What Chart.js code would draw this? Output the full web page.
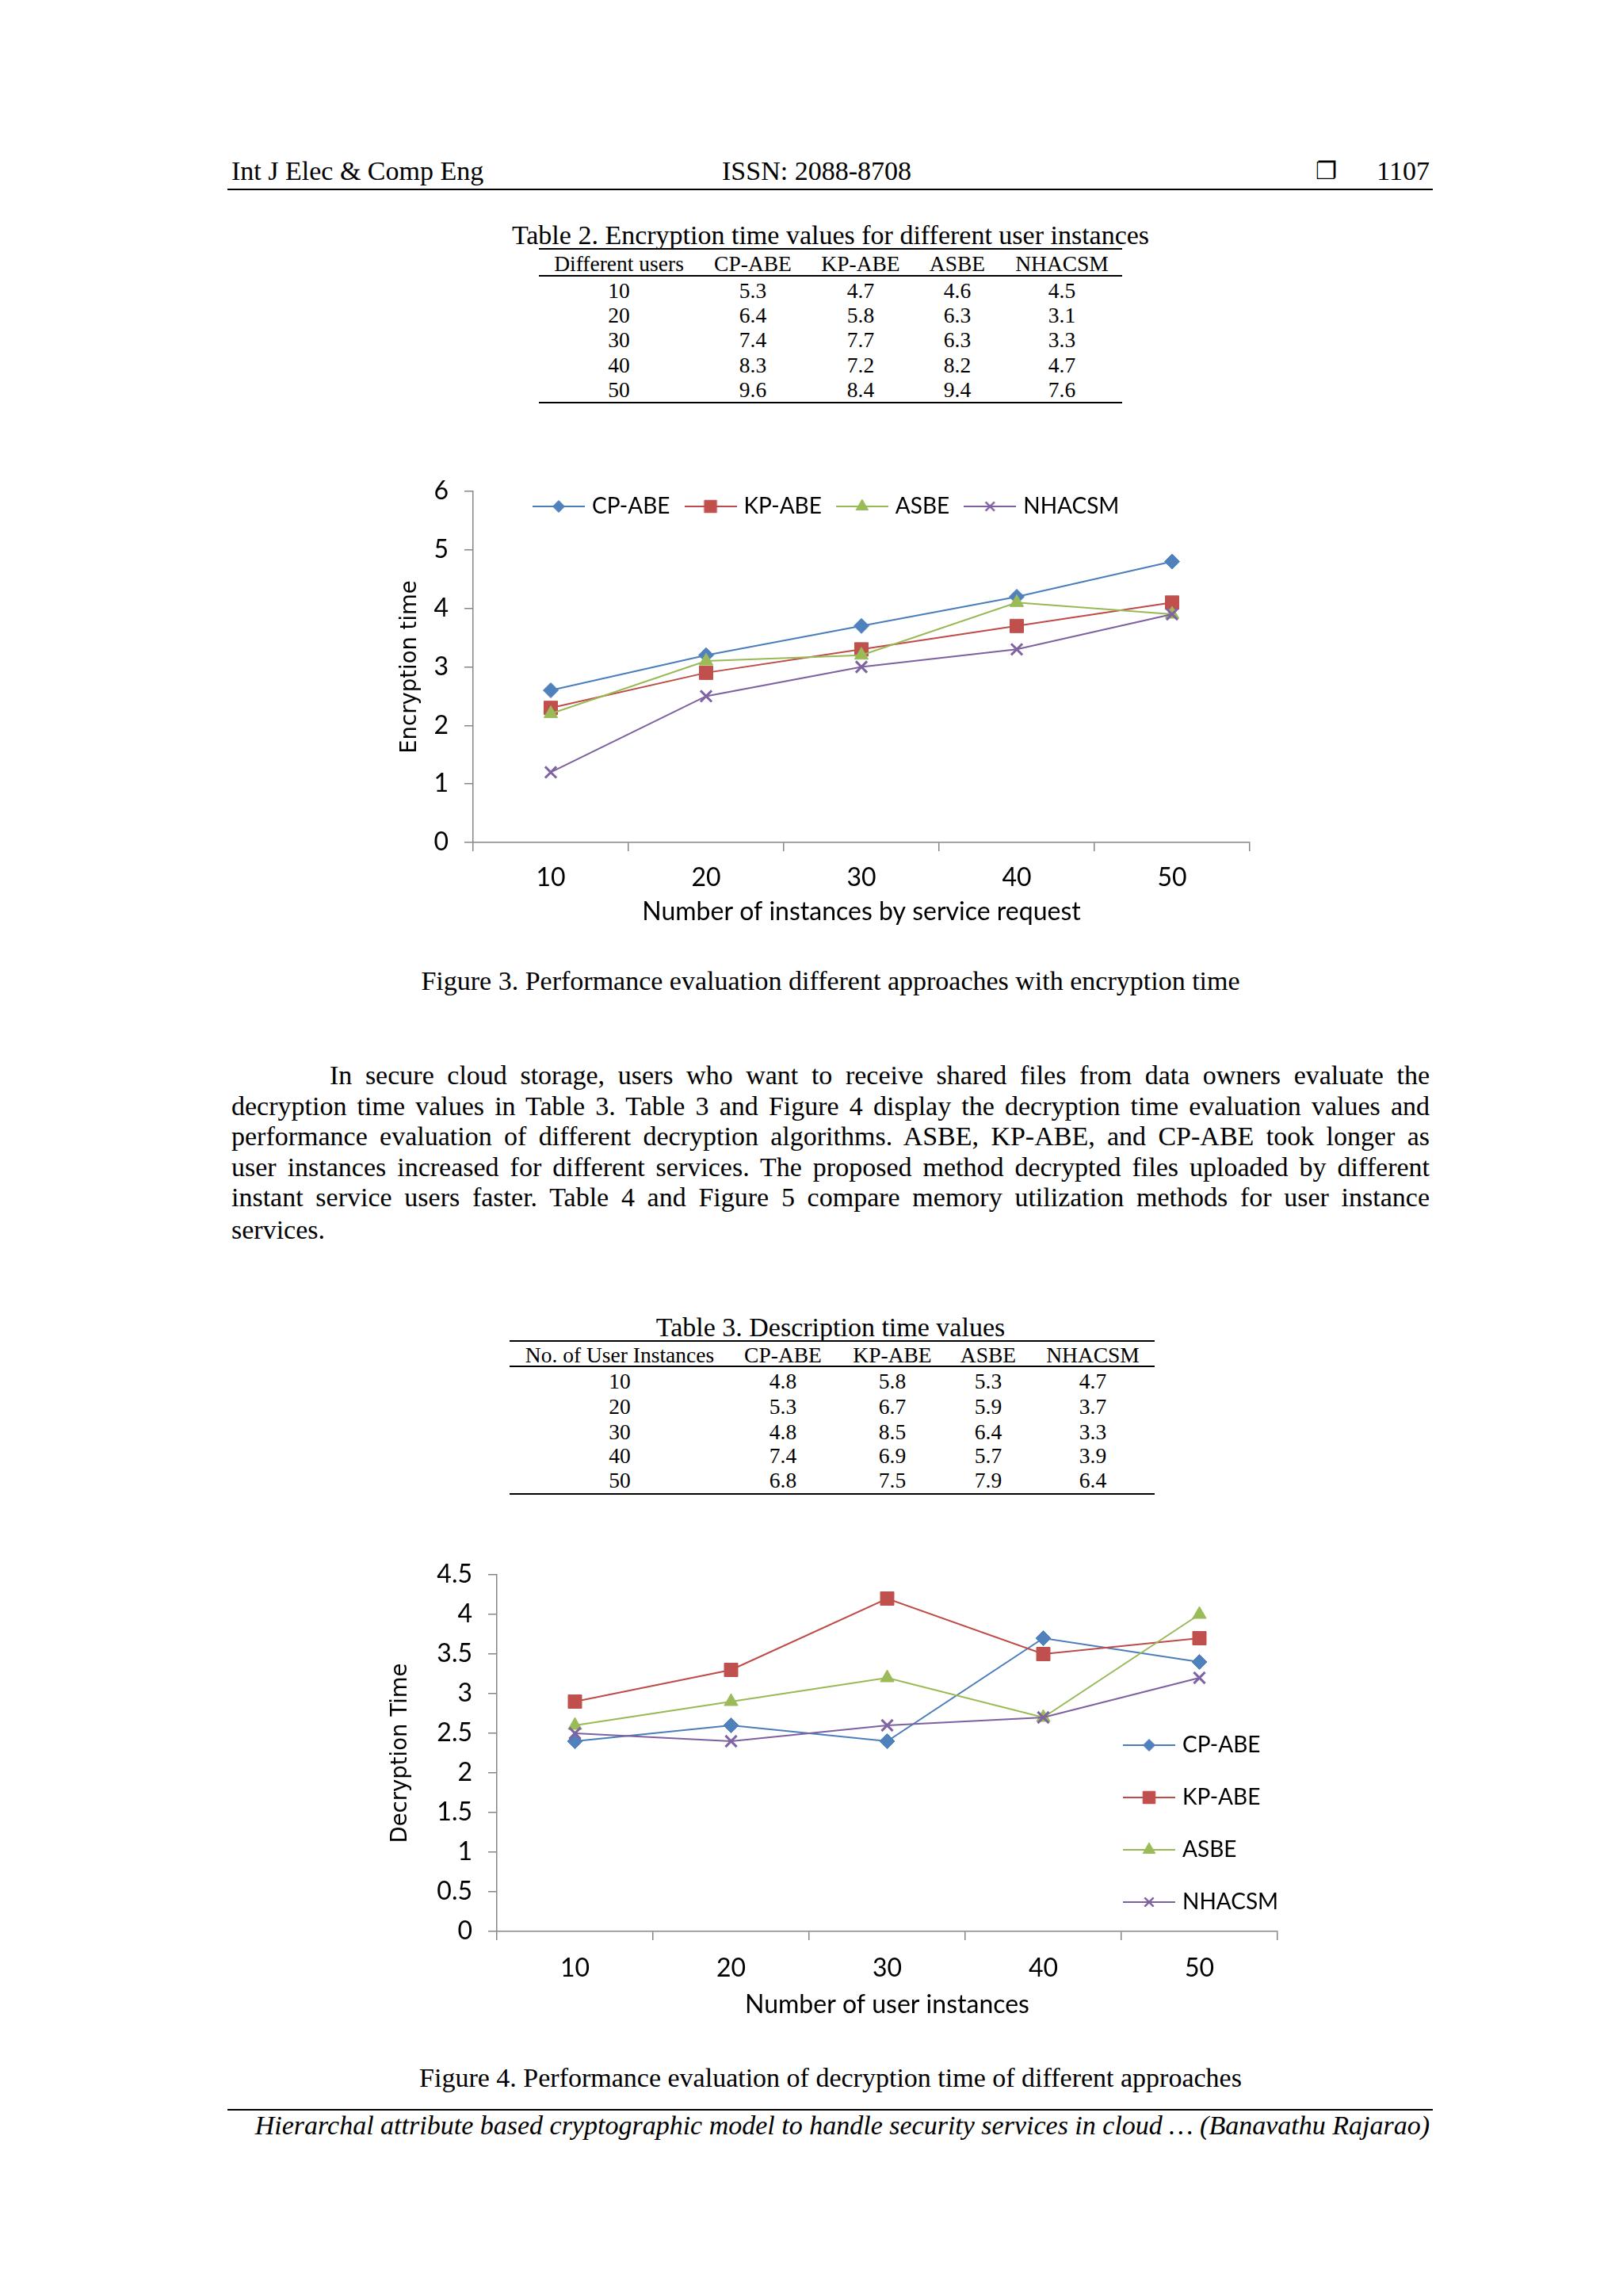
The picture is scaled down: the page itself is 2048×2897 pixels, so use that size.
<!DOCTYPE html>
<html>
<head>
<meta charset="utf-8">
<title>Encryption / decryption time</title>
<script src="https://cdn.jsdelivr.net/npm/chart.js@4.4.1/dist/chart.umd.min.js"></script>
<style>
  html, body { margin: 0; padding: 0; background: #fff; }
  body { position: relative; width: 2048px; height: 2897px; overflow: hidden;
         font-family: "Liberation Serif", "Times New Roman", serif; color: #000; }
  .txt { position: absolute; white-space: nowrap; font-size: 34px; line-height: 34px; }
  .cap { position: absolute; left: 292px; width: 1512px; text-align: center; white-space: nowrap; font-size: 34px; line-height: 34px; }
  .cell { position: absolute; width: 300px; text-align: center; white-space: nowrap; font-size: 27.5px; line-height: 28px; }
  .rule { position: absolute; height: 2px; background: #000; }
  .para { position: absolute; font-size: 34px; line-height: 34px; white-space: nowrap;
          text-align: justify; text-align-last: justify; }
  canvas { position: absolute; }
</style>
</head>
<body>

<!-- cabecera -->
<div class="txt" style="left:292px;top:199px">Int J Elec &amp; Comp Eng</div>
<div class="txt" style="left:911px;top:199px">ISSN: 2088-8708</div>
<div class="txt" style="left:1660px;top:199px;font-family:'DejaVu Sans';font-size:30px">&#x2750;</div>
<div class="txt" style="right:244px;top:199px">1107</div>
<div class="rule" style="left:287px;width:1521px;top:238px"></div>

<div class="cap" style="top:280px">Table 2. Encryption time values for different user instances</div>
<div id="table2"></div>

<canvas id="encChart" width="1137" height="618" style="left:480px;top:560px"></canvas>

<div class="cap" style="top:1221px">Figure 3. Performance evaluation different approaches with encryption time</div>

<div class="para" style="left:416px;width:1388px;top:1340px">In secure cloud storage, users who want to receive shared files from data owners evaluate the</div>
<div class="para" style="left:292px;width:1512px;top:1379px">decryption time values in Table 3. Table 3 and Figure 4 display the decryption time evaluation values and</div>
<div class="para" style="left:292px;width:1512px;top:1417px">performance evaluation of different decryption algorithms. ASBE, KP-ABE, and CP-ABE took longer as</div>
<div class="para" style="left:292px;width:1512px;top:1456px">user instances increased for different services. The proposed method decrypted files uploaded by different</div>
<div class="para" style="left:292px;width:1512px;top:1494px">instant service users faster. Table 4 and Figure 5 compare memory utilization methods for user instance</div>
<div class="para" style="left:292px;width:1512px;top:1535px;text-align:left;text-align-last:left">services.</div>

<div class="cap" style="top:1658px">Table 3. Description time values</div>
<div id="table3"></div>

<canvas id="decChart" width="1186" height="610" style="left:466px;top:1947px"></canvas>

<div class="cap" style="top:2605px">Figure 4. Performance evaluation of decryption time of different approaches</div>
<div class="rule" style="left:287px;width:1521px;top:2661px"></div>
<div class="txt" style="right:244px;top:2665px;font-style:italic">Hierarchal attribute based cryptographic model to handle security services in cloud &#8230; (Banavathu Rajarao)</div>

<script>
// Datos de las tablas
const table2Head = ['Different users', 'CP-ABE', 'KP-ABE', 'ASBE', 'NHACSM'];
const table2Rows = [
    ['10', '5.3', '4.7', '4.6', '4.5'],
    ['20', '6.4', '5.8', '6.3', '3.1'],
    ['30', '7.4', '7.7', '6.3', '3.3'],
    ['40', '8.3', '7.2', '8.2', '4.7'],
    ['50', '9.6', '8.4', '9.4', '7.6']
];
const table3Head = ['No. of User Instances', 'CP-ABE', 'KP-ABE', 'ASBE', 'NHACSM'];
const table3Rows = [
    ['10', '4.8', '5.8', '5.3', '4.7'],
    ['20', '5.3', '6.7', '5.9', '3.7'],
    ['30', '4.8', '8.5', '6.4', '3.3'],
    ['40', '7.4', '6.9', '5.7', '3.9'],
    ['50', '6.8', '7.5', '7.9', '6.4']
];

// Datos de las graficas
const categories = ['10', '20', '30', '40', '50'];
const seriesNames = ['CP-ABE', 'KP-ABE', 'ASBE', 'NHACSM'];

const encCpAbe = [2.6, 3.2, 3.7, 4.2, 4.8];
const encKpAbe = [2.3, 2.9, 3.3, 3.7, 4.1];
const encAsbe = [2.2, 3.1, 3.2, 4.1, 3.9];
const encNhacsm = [1.2, 2.5, 3.0, 3.3, 3.9];

const decCpAbe = [2.4, 2.6, 2.4, 3.7, 3.4];
const decKpAbe = [2.9, 3.3, 4.2, 3.5, 3.7];
const decAsbe = [2.6, 2.9, 3.2, 2.7, 4.0];
const decNhacsm = [2.5, 2.4, 2.6, 2.7, 3.2];

const encTicks = ['0', '1', '2', '3', '4', '5', '6'];
const decTicks = ['0', '0.5', '1', '1.5', '2', '2.5', '3', '3.5', '4', '4.5'];

// Estilos (colores de Excel 2007)
const lineColors = ['#4A7EBB', '#BE4B48', '#98B954', '#7D60A0'];
const markerColors = ['#4F81BD', '#C0504D', '#9BBB59', '#8064A2'];
const markerStyles = ['rectRot', 'rect', 'triangle', 'crossRot'];
const markerSizes = [9.5, 12, 10, 10];
const legendMarkerSizes = [7.5, 11, 9, 8];

// Tablas
function buildTable(el, head, rows, cols, left, right, rules, headY, rowYs) {
    const box = document.getElementById(el);
    rules.forEach(y => {
        let r = document.createElement('div');
        r.className = 'rule';
        r.style.left = left + 'px';
        r.style.width = (right - left) + 'px';
        r.style.top = (y - 1) + 'px';
        box.appendChild(r);
    });
    const put = (txt, cx, cy) => {
        let c = document.createElement('div');
        c.className = 'cell';
        c.textContent = txt;
        c.style.left = (cx - 150) + 'px';
        c.style.top = (cy - 14) + 'px';
        box.appendChild(c);
    };
    head.forEach((h, j) => put(h, cols[j], headY));
    rows.forEach((row, i) => row.forEach((v, j) => put(v, cols[j], rowYs[i])));
}
buildTable('table2', table2Head, table2Rows, [781, 950, 1086, 1208, 1340], 680, 1416,
    [314, 348, 508], 333, [367, 398, 429, 461, 492]);
buildTable('table3', table3Head, table3Rows, [782, 988, 1126, 1247, 1379], 643, 1457,
    [1692, 1724, 1885], 1710, [1743, 1775, 1807, 1837, 1868]);

// Icono de leyenda: linea con marcador al centro
function legendIcon(i) {
    const c = document.createElement('canvas');
    c.width = 66;
    c.height = 24;
    const g = c.getContext('2d');
    g.strokeStyle = lineColors[i];
    g.lineWidth = 2;
    g.beginPath();
    g.moveTo(0, 12);
    g.lineTo(66, 12);
    g.stroke();
    g.fillStyle = markerColors[i];
    g.strokeStyle = markerColors[i];
    g.lineWidth = i === 3 ? 2.5 : 1;
    Chart.helpers.drawPoint(g, {
        pointStyle: markerStyles[i], radius: legendMarkerSizes[i],
        borderWidth: g.lineWidth, rotation: 0
    }, 33, 12);
    return c;
}
const legendIcons = seriesNames.map((n, i) => legendIcon(i));

function buildDatasets(values) {
    return seriesNames.map((name, i) => ({
        label: name,
        data: values[i],
        order: 3 - i,
        borderColor: lineColors[i],
        backgroundColor: markerColors[i],
        borderWidth: 2,
        pointStyle: markerStyles[i],
        pointRadius: markerSizes[i],
        pointHoverRadius: markerSizes[i],
        pointBackgroundColor: markerColors[i],
        pointBorderColor: markerColors[i],
        pointBorderWidth: i === 3 ? 3 : 1,
        tension: 0,
        fill: false
    }));
}

// Mueve la leyenda dentro del area del grafico
const legendSpot = {
    id: 'legendSpot',
    afterLayout(chart, args, opts) {
        const lg = chart.legend;
        if (!lg) return;
        lg.left = opts.x;
        lg.top = opts.y;
        lg.width = opts.w;
        lg.height = opts.h;
        lg.right = opts.x + opts.w;
        lg.bottom = opts.y + opts.h;
    }
};

const axisGray = '#868686';
const chartFont = 'Lato, "Open Sans", sans-serif';

function legendOptions(position, padding) {
    return {
        display: true,
        position: position,
        align: 'start',
        maxHeight: position === 'top' ? 1 : undefined,
        labels: {
            usePointStyle: true,
            pointStyleWidth: 56,
            boxHeight: 24,
            padding: padding,
            color: '#000',
            font: { family: chartFont, size: 28 },
            sort: (a, b) => a.datasetIndex - b.datasetIndex,
            generateLabels: chart => Chart.defaults.plugins.legend.labels.generateLabels(chart)
                .map(item => Object.assign(item, { pointStyle: legendIcons[item.datasetIndex] }))
        }
    };
}

function scalesFor(ticks, step, yTitle, xTitle, yWidth, yTitlePad, xHeight, xTickPad) {
    return {
        x: {
            type: 'category',
            offset: true,
            border: { display: true, color: axisGray, width: 1.5 },
            grid: { display: true, offset: true, drawOnChartArea: false, drawTicks: true, tickLength: 11, color: axisGray, lineWidth: 1.5 },
            ticks: { color: '#000', padding: xTickPad, font: { family: chartFont, size: 32 } },
            title: { display: true, text: xTitle, color: '#000', padding: { top: 0, bottom: 8 }, font: { family: chartFont, size: 32 } },
            afterFit: s => { s.height = xHeight; }
        },
        y: {
            min: 0,
            max: Number(ticks[ticks.length - 1]),
            border: { display: true, color: axisGray, width: 1.5 },
            grid: { display: true, drawOnChartArea: false, drawTicks: true, tickLength: 11, color: axisGray, lineWidth: 1.5 },
            ticks: {
                stepSize: step,
                padding: 20,
                color: '#000',
                font: { family: chartFont, size: 32 },
                callback: (v, i) => ticks[i]
            },
            title: { display: true, text: yTitle, color: '#000', padding: { top: yTitlePad, bottom: 0 }, font: { family: '"DejaVu Sans", Verdana, sans-serif', size: 27.5 } },
            afterFit: s => { s.width = yWidth; }
        }
    };
}

// Figura 3: tiempo de encriptacion
var ctxEnc = document.getElementById('encChart').getContext('2d');
var encChart = new Chart(ctxEnc, {
    type: 'line',
    data: {
        labels: categories,
        datasets: buildDatasets([encCpAbe, encKpAbe, encAsbe, encNhacsm])
    },
    options: {
        responsive: false,
        animation: false,
        devicePixelRatio: 1,
        layout: { padding: { top: 59, right: 40, bottom: 0, left: 0 } },
        plugins: {
            legend: legendOptions('top', 23),
            tooltip: { enabled: false },
            legendSpot: { x: 174, y: 42, w: 1000, h: 70 }
        },
        scales: scalesFor(encTicks, 1, 'Encryption time', 'Number of instances by service request', 117, 21.5, 115, 14)
    },
    plugins: [legendSpot]
});

// Figura 4: tiempo de desencriptacion
var ctxDec = document.getElementById('decChart').getContext('2d');
var decChart = new Chart(ctxDec, {
    type: 'line',
    data: {
        labels: categories,
        datasets: buildDatasets([decCpAbe, decKpAbe, decAsbe, decNhacsm])
    },
    options: {
        responsive: false,
        animation: false,
        devicePixelRatio: 1,
        layout: { padding: { top: 40, right: 40, bottom: 0, left: 0 } },
        plugins: {
            legend: legendOptions('chartArea', 38),
            tooltip: { enabled: false },
            legendSpot: { x: 918, y: 203, w: 260, h: 320 }
        },
        scales: scalesFor(decTicks, 0.5, 'Decryption Time', 'Number of user instances', 161, 23.5, 120, 16)
    },
    plugins: [legendSpot]
});
</script>
</body>
</html>
